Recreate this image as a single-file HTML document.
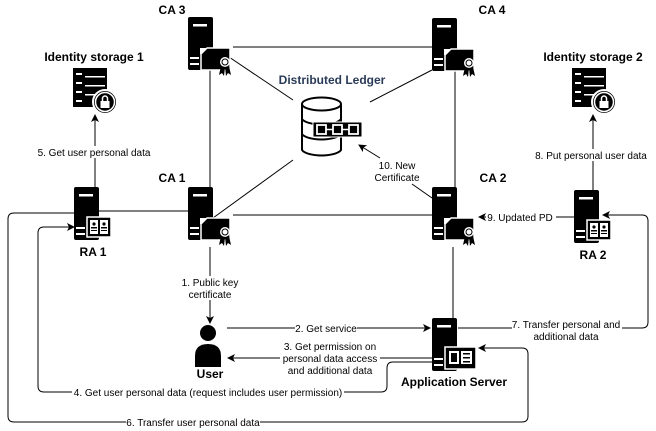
<!DOCTYPE html>
<html><head><meta charset="utf-8"><style>
html,body{margin:0;padding:0;background:#fff;}
svg{display:block;}
text{font-family:"Liberation Sans",Arial,sans-serif;font-size:10px;fill:#000;}
.b{font-weight:bold;font-size:12px;}
</style></head><body>
<svg width="656" height="431" viewBox="0 0 656 431" xmlns="http://www.w3.org/2000/svg">
<defs>
<marker id="ar" markerWidth="8" markerHeight="8" refX="7" refY="4" orient="auto" markerUnits="userSpaceOnUse">
<path d="M0,0 L8,4 L0,8 L2,4 Z" fill="#000"/></marker>
<g id="srv">
<rect x="0" y="0" width="25" height="53" rx="2" fill="#000"/>
<rect x="5" y="7" width="14" height="2.5" fill="#fff"/>
<rect x="2" y="40" width="9" height="2" fill="#fff"/>
<rect x="2" y="46" width="9" height="2" fill="#fff"/>
</g>
<g id="ca">
<use href="#srv"/>
<path d="M12,31 L18,31 L18,37 L12,37 Z" fill="#fff"/>
<path d="M13,53 L13,37 L19,31 L42,31 L42,53 Z" fill="#000" stroke="#fff" stroke-width="1.5"/>
<circle cx="37" cy="45" r="5" fill="#fff"/><circle cx="37" cy="45" r="3" fill="none" stroke="#000" stroke-width="1"/>
<path d="M33,49 L31,58 L34,56 L36,59 L37,50 Z M41,49 L43,58 L40,56 L38,59 L37,50 Z" fill="#000"/>
</g>
<g id="ra">
<use href="#srv"/>
<rect x="13" y="30" width="24" height="20" fill="#000" stroke="#fff" stroke-width="1.5"/>
<rect x="16" y="33" width="8" height="14" fill="#fff"/><rect x="26" y="33" width="8" height="14" fill="#fff"/>
<circle cx="20" cy="37" r="1.6" fill="#000"/><circle cx="30" cy="37" r="1.6" fill="#000"/>
<rect x="17" y="40" width="6" height="1.5" fill="#000"/><rect x="27" y="40" width="6" height="1.5" fill="#000"/>
<rect x="17" y="43" width="6" height="1" fill="#000"/><rect x="27" y="43" width="6" height="1" fill="#000"/>
</g>
<g id="ids">
<rect x="0" y="0" width="34" height="39" fill="#000"/>
<rect x="3" y="5" width="6" height="2" fill="#fff"/><rect x="12" y="8" width="20" height="1.5" fill="#fff"/>
<rect x="3" y="14" width="6" height="2" fill="#fff"/><rect x="12" y="17" width="20" height="1.5" fill="#fff"/>
<rect x="3" y="23" width="6" height="2" fill="#fff"/><rect x="12" y="26" width="10" height="1.5" fill="#fff"/>
<rect x="3" y="32" width="6" height="2" fill="#fff"/>
<circle cx="32" cy="34" r="12" fill="#000" stroke="#fff" stroke-width="2"/>
<circle cx="32" cy="34" r="9.5" fill="none" stroke="#fff" stroke-width="1.5"/>
<rect x="27.5" y="33" width="9" height="7" fill="#fff"/>
<path d="M29.5,33 V30.5 A2.5,2.5 0 0 1 34.5,30.5 V33" fill="none" stroke="#fff" stroke-width="1.5"/>
</g>
</defs>

<g stroke="#000" stroke-width="1" fill="none">
<line x1="233" y1="47" x2="432" y2="47"/>
<line x1="210" y1="70" x2="210" y2="187"/>
<line x1="455" y1="70" x2="455" y2="187"/>
<line x1="233" y1="215" x2="432" y2="215"/>
<line x1="99" y1="211" x2="188" y2="211"/>
<line x1="229" y1="57" x2="293" y2="100"/>
<line x1="432" y1="70" x2="370" y2="102"/>
<line x1="213" y1="218" x2="293" y2="160"/>
<line x1="432" y1="198" x2="412" y2="184"/>
<line x1="380" y1="158" x2="359" y2="145" marker-end="url(#ar)"/>
<line x1="95" y1="187" x2="95" y2="115" marker-end="url(#ar)"/>
<line x1="593" y1="190" x2="593" y2="115" marker-end="url(#ar)"/>
<line x1="574" y1="217" x2="479" y2="217" marker-end="url(#ar)"/>
<line x1="210" y1="247" x2="210" y2="323" marker-end="url(#ar)"/>
<line x1="453" y1="247" x2="453" y2="318"/>
<line x1="227" y1="328" x2="430" y2="328" marker-end="url(#ar)"/>
<line x1="433" y1="358" x2="228" y2="358" marker-end="url(#ar)"/>
<path d="M433,362 H393 Q387,362 387,368 V386 Q387,392 381,392 H44 Q38,392 38,386 V233 Q38,227 44,227 H74" marker-end="url(#ar)"/>
<path d="M74,213 H14 Q8,213 8,219 V416 Q8,422 14,422 H522 Q528,422 528,416 V354 Q528,348 522,348 H479" marker-end="url(#ar)"/>
<path d="M458,328 H642 Q648,328 648,322 V221 Q648,215 642,215 H603" marker-end="url(#ar)"/>
</g>

<use href="#ca" x="188" y="17"/>
<use href="#ca" x="432" y="18"/>
<use href="#ca" x="188" y="187"/>
<use href="#ca" x="432" y="187"/>
<use href="#ra" x="74" y="187"/>
<use href="#ra" x="574" y="190"/>
<use href="#ids" x="73" y="68"/>
<use href="#ids" x="572" y="68"/>

<!-- app server -->
<use href="#srv" x="432" y="318"/>
<rect x="445" y="347" width="31" height="22" fill="#000" stroke="#fff" stroke-width="1.5"/>
<rect x="449" y="351" width="10" height="13" fill="#fff"/>
<rect x="461" y="351" width="11" height="13" fill="#fff"/>
<rect x="451" y="353" width="6" height="9" fill="#000"/>
<rect x="463" y="353" width="7" height="1.5" fill="#000"/><rect x="463" y="357" width="7" height="1.5" fill="#000"/><rect x="463" y="361" width="7" height="1.5" fill="#000"/>

<!-- user -->
<circle cx="208" cy="333" r="8" fill="#000"/>
<path d="M195,367 V356 Q195,344 208,344 Q221,344 221,356 V367 Z" fill="#000"/>

<!-- ledger -->
<path d="M302,104 V150 A20,7 0 0 0 341,150 V104" fill="#fff" stroke="#000" stroke-width="2"/>
<ellipse cx="321.5" cy="104" rx="19.5" ry="6.5" fill="#fff" stroke="#000" stroke-width="2"/>
<path d="M302,119 A20,7 0 0 0 341,119 M302,134 A20,7 0 0 0 341,134" fill="none" stroke="#000" stroke-width="2"/>
<rect x="313" y="122" width="49" height="15" fill="#000" stroke="#fff" stroke-width="1"/>
<rect x="317" y="125" width="9" height="9" fill="none" stroke="#fff" stroke-width="1.8"/>
<rect x="333" y="125" width="9" height="9" fill="none" stroke="#fff" stroke-width="1.8"/>
<rect x="349" y="125" width="9" height="9" fill="none" stroke="#fff" stroke-width="1.8"/>
<line x1="326" y1="129.5" x2="333" y2="129.5" stroke="#fff" stroke-width="1.5"/>
<line x1="342" y1="129.5" x2="349" y2="129.5" stroke="#fff" stroke-width="1.5"/>

<!-- labels -->
<g text-anchor="middle">
<text class="b" x="172" y="14">CA 3</text>
<text class="b" x="492" y="14">CA 4</text>
<text class="b" x="172" y="182">CA 1</text>
<text class="b" x="493" y="182">CA 2</text>
<text class="b" x="94" y="61">Identity storage 1</text>
<text class="b" x="593" y="61">Identity storage 2</text>
<text class="b" x="332" y="84" style="fill:#2a3b58">Distributed Ledger</text>
<text class="b" x="93" y="256">RA 1</text>
<text class="b" x="593" y="259">RA 2</text>
<text class="b" x="210" y="378">User</text>
<text class="b" x="454" y="386">Application Server</text>
</g>
<g text-anchor="middle">
<rect x="36" y="146" width="118" height="12" fill="#fff"/>
<text x="94" y="156">5. Get user personal data</text>
<rect x="534" y="149" width="118" height="12" fill="#fff"/>
<text x="591" y="159">8. Put personal user data</text>
<text x="397" y="169">10. New</text>
<text x="397" y="181">Certificate</text>
<rect x="486" y="211" width="70" height="12" fill="#fff"/>
<text x="520" y="221">9. Updated PD</text>
<rect x="180" y="276" width="60" height="24" fill="#fff"/>
<text x="210" y="286">1. Public key</text>
<text x="210" y="298">certificate</text>
<rect x="295" y="322" width="62" height="12" fill="#fff"/>
<text x="326" y="332">2. Get service</text>
<rect x="280" y="340" width="100" height="36" fill="#fff"/>
<text x="330" y="350">3. Get permission on</text>
<text x="330" y="362">personal data access</text>
<text x="330" y="374">and additional data</text>
<rect x="72" y="386" width="272" height="12" fill="#fff"/>
<text x="208" y="396">4. Get user personal data (request includes user permission)</text>
<rect x="126" y="416" width="134" height="12" fill="#fff"/>
<text x="193" y="426">6. Transfer user personal data</text>
<rect x="512" y="318" width="110" height="24" fill="#fff"/>
<text x="566" y="328">7. Transfer personal and</text>
<text x="566" y="340">additional data</text>
</g>
</svg>
</body></html>
